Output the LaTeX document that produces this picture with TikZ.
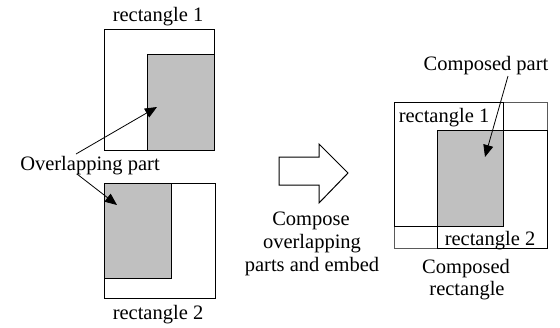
\documentclass[tikz,border=0pt]{standalone}
\usepackage{fontspec}
\setmainfont{Liberation Serif}
\usetikzlibrary{arrows.meta}
\definecolor{partgray}{RGB}{192,192,192}
\definecolor{outergray}{RGB}{90,90,90}
\begin{document}
\begin{tikzpicture}[x=1pt,y=-1pt,
  lbl/.style={inner sep=0pt,anchor=base,font=\fontsize{20.5}{23}\selectfont},
  box/.style={draw=black,line width=1pt},
  part/.style={fill=partgray,draw=black,line width=1pt},
  pointer/.style={draw=black,line width=0.8pt,-{Triangle[length=12pt,width=10pt]}}]
\useasboundingbox (0,0) rectangle (560,327);
% left: rectangle 1 and rectangle 2
\draw[box] (104,29) rectangle (214,150);
\draw[part] (147,54) rectangle (214,150);
\draw[box] (104,183) rectangle (215,298);
\draw[part] (104,183) rectangle (171,278);
\node[lbl] (r1) at (158,21) {rectangle 1};
\node[lbl] (r2) at (158,319) {rectangle 2};
\node[lbl] (ov) at (90,170) {Overlapping part};
\coordinate (ovA) at (76,154);
\coordinate (ovB) at (77,174);
\coordinate (tipA) at (157,107);
\coordinate (tipB) at (117,205);
\draw[pointer] (ovA) -- (tipA);
\draw[pointer] (ovB) -- (tipB);
% block arrow
\draw[line width=1pt,fill=white] (279,157) -- (319,157) -- (319,144) -- (348,173) -- (319,203) -- (319,185) -- (279,185) -- cycle;
\node[lbl,align=center] (cmp1) at (311,225) {Compose};
\node[lbl] (cmp2) at (312,248) {overlapping};
\node[lbl] (cmp3) at (312,271) {parts and embed};
% right: composed rectangle
\draw[draw=outergray,line width=1pt] (394,102) rectangle (547,248);
\draw[part,draw=none] (437,130) rectangle (503,226);
\draw[box] (394,102) rectangle (503,226);
\draw[box] (437,130) rectangle (547,248);
\node[lbl] (cr1) at (444,122) {rectangle 1};
\node[lbl] (cr2) at (490,245) {rectangle 2};
\node[lbl] (cp) at (486,70) {Composed part};
\coordinate (cpA) at (508,76);
\coordinate (cpT) at (485,157);
\draw[pointer] (cpA) -- (cpT);
\node[lbl] (crA) at (466,273) {Composed};
\node[lbl] (crB) at (467,295) {rectangle};
\end{tikzpicture}
\end{document}
